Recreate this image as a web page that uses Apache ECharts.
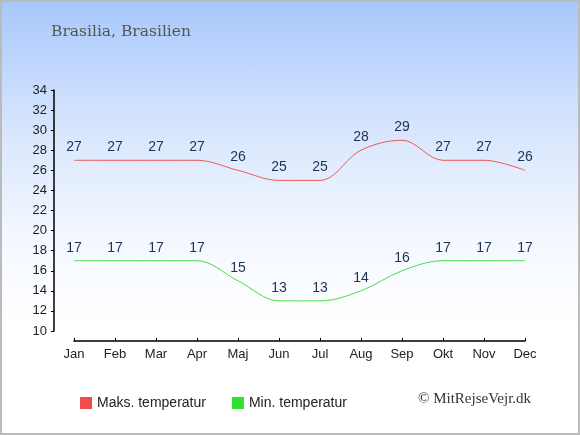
<!DOCTYPE html>
<html>
<head>
<meta charset="utf-8">
<script src="https://cdn.jsdelivr.net/npm/echarts@6/dist/echarts.min.js"></script>
<style>
  html, body { margin: 0; padding: 0; }
  #chart {
    width: 576px; height: 431px;
    border: 2px solid #bbbbbb;
    background: linear-gradient(to bottom, #a8c8fb 0%, #d8e6fd 30%, #f4f8ff 55%, #ffffff 75%);
  }
</style>
</head>
<body>
<div id="chart"></div>
<script>
  // måneder og temperaturer
  var months = ['Jan', 'Feb', 'Mar', 'Apr', 'Maj', 'Jun', 'Jul', 'Aug', 'Sep', 'Okt', 'Nov', 'Dec']
  var maxTemp = [27, 27, 27, 27, 26, 25, 25, 28, 29, 27, 27, 26]
  var minTemp = [17, 17, 17, 17, 15, 13, 13, 14, 16, 17, 17, 17]

  var myChart = echarts.init(document.getElementById('chart'))

  var labelStyle = {
    show: true,
    position: 'top',
    distance: 6,
    color: '#1c3355',
    fontSize: 14,
    fontFamily: 'Liberation Sans, Arial, sans-serif',
  }

  var option = {
    animation: false,
    title: {
      text: 'Brasilia, Brasilien',
      left: 44,
      top: 17,
      textStyle: {
        color: '#555555',
        fontSize: 15.5,
        fontWeight: 'normal',
        fontFamily: 'DejaVu Serif, serif',
      },
    },
    grid: {
      top: 88,
      left: 72,
      right: 53,
      bottom: 102,
    },
    legend: {
      left: 73,
      top: 389,
      itemWidth: 12,
      itemHeight: 12,
      itemGap: 26,
      icon: 'rect',
      textStyle: {
        color: '#222',
        fontSize: 14,
        fontFamily: 'Liberation Sans, Arial, sans-serif',
      },
      data: ['Maks. temperatur', 'Min. temperatur'],
    },
    graphic: [
      {
        type: 'text',
        left: 416,
        top: 390,
        style: {
          text: '© MitRejseVejr.dk',
          fill: '#333',
          font: '15px "Liberation Serif", serif',
        },
      },
    ],
    xAxis: {
      type: 'category',
      data: months,
      boundaryGap: false,
      offset: 10,
      axisLine: { lineStyle: { color: '#000', width: 1.5 } },
      axisTick: { inside: true, length: 3, lineStyle: { color: '#000' } },
      axisLabel: {
        color: '#222',
        fontSize: 13,
        margin: 7,
        fontFamily: 'Liberation Sans, Arial, sans-serif',
      },
      splitLine: { show: false },
    },
    yAxis: {
      type: 'value',
      min: 10,
      max: 34,
      interval: 2,
      offset: 20,
      axisLine: { show: true, lineStyle: { color: '#000', width: 1.5 } },
      axisTick: { show: true, length: 3, lineStyle: { color: '#000' } },
      axisLabel: {
        color: '#222',
        fontSize: 13,
        margin: 7,
        fontFamily: 'Liberation Sans, Arial, sans-serif',
      },
      splitLine: { show: false },
    },
    series: [
      {
        name: 'Maks. temperatur',
        type: 'line',
        data: maxTemp,
        smooth: 0.35,
        showSymbol: true,
        symbolSize: 0,
        itemStyle: { color: '#f24b4b' },
        lineStyle: { color: '#f05555', width: 1 },
        label: labelStyle,
      },
      {
        name: 'Min. temperatur',
        type: 'line',
        data: minTemp,
        smooth: 0.35,
        showSymbol: true,
        symbolSize: 0,
        itemStyle: { color: '#2ee22e' },
        lineStyle: { color: '#44e044', width: 1 },
        label: labelStyle,
      },
    ],
  }

  myChart.setOption(option)
</script>
</body>
</html>
